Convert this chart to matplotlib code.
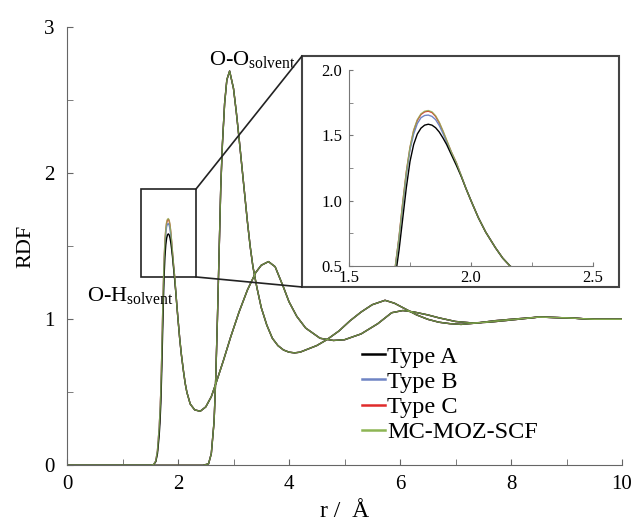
import matplotlib
matplotlib.use('Agg')
import matplotlib.pyplot as plt
from matplotlib.patches import Rectangle, ConnectionPatch
from matplotlib.lines import Line2D

plt.rcParams['font.family'] = 'Liberation Serif'
plt.rcParams['mathtext.fontset'] = 'custom'
plt.rcParams['mathtext.rm'] = 'Liberation Serif'

# O-H solvent RDF: r grid split in three parts, only the first peak differs per model
r_oh_head = [0.0, 1.5, 1.56, 1.6, 1.63]
r_oh_peak = [1.66, 1.675, 1.69, 1.705, 1.72, 1.735, 1.75, 1.765, 1.78, 1.795, 1.81,
             1.825, 1.84, 1.855, 1.87, 1.885, 1.9, 1.92, 1.94, 1.96, 1.98, 2.0]
r_oh_tail = [2.03, 2.06, 2.1, 2.13, 2.16, 2.22, 2.3, 2.4, 2.5, 2.6, 2.7, 2.82, 2.95,
             3.1, 3.25, 3.4, 3.5, 3.63, 3.75, 3.9, 4.0, 4.14, 4.3, 4.56, 4.8, 5.0,
             5.3, 5.6, 5.85, 6.05, 6.25, 6.5, 6.7, 7.0, 7.3, 7.6, 8.0, 8.5, 9.0, 9.5, 10.0]

g_oh_head = [0.0, 0.0, 0.005, 0.03, 0.1]
g_oh_head_a = [0.0, 0.0, 0.004, 0.025, 0.08]
g_oh_tail = [0.87, 0.76, 0.64, 0.56, 0.5, 0.42, 0.38, 0.37, 0.40, 0.47, 0.58, 0.72, 0.88,
             1.05, 1.2, 1.32, 1.37, 1.395, 1.36, 1.22, 1.12, 1.02, 0.94, 0.87, 0.855, 0.86,
             0.9, 0.97, 1.045, 1.06, 1.05, 1.03, 1.01, 0.985, 0.975, 0.98, 0.995, 1.015, 1.01, 1.0, 1.0]

peak_a = [0.2, 0.29, 0.42, 0.62, 0.86, 1.1, 1.3, 1.43, 1.51, 1.555, 1.578, 1.585, 1.578,
          1.558, 1.525, 1.48, 1.43, 1.35, 1.27, 1.185, 1.09, 1.0]
peak_b = [0.25, 0.355, 0.49, 0.71, 0.96, 1.2, 1.39, 1.51, 1.59, 1.635, 1.652, 1.655, 1.645,
          1.62, 1.575, 1.515, 1.45, 1.365, 1.285, 1.19, 1.09, 1.0]
peak_c = [0.25, 0.36, 0.5, 0.72, 0.98, 1.22, 1.405, 1.535, 1.615, 1.66, 1.68, 1.685, 1.675,
          1.645, 1.595, 1.53, 1.46, 1.37, 1.29, 1.19, 1.09, 1.0]
peak_moz = [0.25, 0.36, 0.5, 0.72, 0.98, 1.22, 1.41, 1.54, 1.62, 1.665, 1.685, 1.69, 1.68,
            1.65, 1.6, 1.535, 1.465, 1.37, 1.29, 1.19, 1.09, 1.0]

# O-O solvent RDF (same for all models)
r_oo = [0.0, 2.45, 2.55, 2.6, 2.65, 2.68, 2.71, 2.74, 2.77, 2.8, 2.84, 2.88, 2.93,
        3.0, 3.05, 3.1, 3.15, 3.2, 3.25, 3.3, 3.35, 3.42, 3.5, 3.6, 3.7, 3.8, 3.9,
        4.0, 4.1, 4.2, 4.3, 4.5, 4.68, 4.9, 5.1, 5.3, 5.5, 5.73, 5.9, 6.1, 6.3, 6.5,
        6.7, 6.9, 7.1, 7.4, 7.7, 8.0, 8.5, 9.0, 9.5, 10.0]
g_oo = [0.0, 0.0, 0.01, 0.08, 0.3, 0.6, 1.0, 1.45, 1.9, 2.2, 2.48, 2.64, 2.70,
        2.58, 2.42, 2.24, 2.05, 1.86, 1.67, 1.50, 1.36, 1.22, 1.08, 0.96, 0.87, 0.82, 0.79,
        0.775, 0.77, 0.775, 0.79, 0.82, 0.86, 0.92, 0.99, 1.05, 1.10, 1.13, 1.11, 1.07, 1.03, 1.0,
        0.98, 0.97, 0.965, 0.975, 0.99, 1.0, 1.015, 1.01, 1.0, 1.0]

labels = ['Type A', 'Type B', 'Type C', 'MC-MOZ-SCF']
colors = ['#000000', '#6f84c4', '#e02b2b', '#8db554']

r_oh = r_oh_head + r_oh_peak + r_oh_tail
oh_sets = [g_oh_head_a + peak_a + g_oh_tail,
           g_oh_head + peak_b + g_oh_tail,
           g_oh_head + peak_c + g_oh_tail,
           g_oh_head + peak_moz + g_oh_tail]

# draw order: C, B, A, then MOZ on top
order = [2, 1, 0, 3]

fig = plt.figure(figsize=(6.4, 5.24), dpi=100)
ax = fig.add_axes([0.1047, 0.112, 0.8672, 0.836])

for i in order:
    a = 0.75 if i == 3 else 1.0
    ax.plot(r_oh, oh_sets[i], color=colors[i], lw=1.0, alpha=a)
    ax.plot(r_oo, g_oo, color=colors[i], lw=1.0, alpha=a)

ax.set_xlim(0, 10)
ax.set_ylim(0, 3)
ax.set_xticks([0, 2, 4, 6, 8, 10])
ax.set_xticks([1, 3, 5, 7, 9], minor=True)
ax.set_yticks([0, 1, 2, 3])
ax.set_yticks([0.5, 1.5, 2.5], minor=True)
for s in ['top', 'right']:
    ax.spines[s].set_visible(False)
for s in ['left', 'bottom']:
    ax.spines[s].set_color('#666666')
ax.tick_params(which='both', direction='in', length=4, color='#666666', labelsize=15)
ax.tick_params(axis='x', pad=7)
ax.tick_params(axis='y', pad=9)
ax.set_xlabel('r /  Å', fontsize=17, labelpad=5)
ax.set_ylabel('RDF', fontsize=16, labelpad=6)

ax.text(2.55, 2.74, 'O-O$_{\\rm solvent}$', fontsize=16)
ax.text(0.36, 1.12, 'O-H$_{\\rm solvent}$', fontsize=16)

# zoom box and connectors
ax.add_patch(Rectangle((1.33, 1.29), 0.99, 0.60, fill=False, ec='#222222', lw=1.2))
frame = Rectangle((0.4719, 0.4523), 0.4953, 0.4408, transform=fig.transFigure,
                  fill=False, ec='#444444', lw=1.5)
fig.add_artist(frame)
for ya, yb in [(1.89, 0.8931), (1.29, 0.4523)]:
    con = ConnectionPatch(xyA=(2.32, ya), coordsA=ax.transData,
                          xyB=(0.4719, yb), coordsB=fig.transFigure,
                          color='#222222', lw=1.2)
    fig.add_artist(con)

handles = [Line2D([], [], color=c, lw=1.8) for c in colors]
fig.legend(handles, labels, loc='center left', bbox_to_anchor=(0.565, 0.247),
           frameon=False, fontsize=17.5, handlelength=0.95, handletextpad=0.1,
           labelspacing=0.13, borderpad=0, borderaxespad=0)

# inset
ins = fig.add_axes([0.5453, 0.4924, 0.3813, 0.374])
ins.patch.set_alpha(0)
for i in order:
    ins.plot(r_oh, oh_sets[i], color=colors[i], lw=1.0, alpha=0.75 if i == 3 else 1.0)
ins.set_xlim(1.5, 2.5)
ins.set_ylim(0.5, 2.0)
ins.set_xticks([1.5, 2.0, 2.5])
ins.set_xticks([1.75, 2.25], minor=True)
ins.set_yticks([0.5, 1.0, 1.5, 2.0])
ins.set_yticks([0.75, 1.25, 1.75], minor=True)
ins.xaxis.set_major_formatter(plt.FormatStrFormatter('%.1f'))
ins.yaxis.set_major_formatter(plt.FormatStrFormatter('%.1f'))
for s in ['top', 'right']:
    ins.spines[s].set_visible(False)
for s in ['left', 'bottom']:
    ins.spines[s].set_color('#777777')
ins.tick_params(which='both', direction='in', length=3, color='#777777', labelsize=12)
ins.tick_params(axis='x', pad=3)
ins.tick_params(axis='y', pad=5)

fig.savefig('out.png', dpi=100)
